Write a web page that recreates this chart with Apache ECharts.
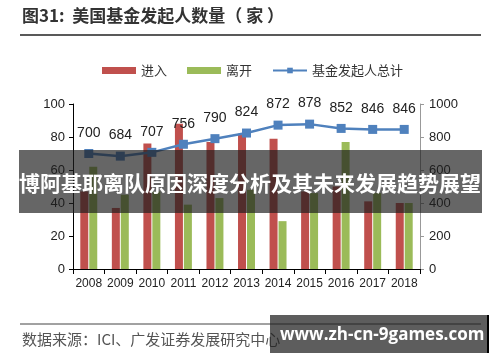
<!DOCTYPE html>
<html><head><meta charset="utf-8">
<script src="https://cdn.jsdelivr.net/npm/echarts@6/dist/echarts.min.js"></script>
<style>html,body{margin:0;padding:0;background:#fff}#c{width:500px;height:362px}</style>
</head><body><div id="c"></div>
<script>
const years = ['2008','2009','2010','2011','2012','2013','2014','2015','2016','2017','2018'];
const entered = [47, 37, 76, 88, 77, 82, 79, 47, 50, 41, 40];
const left = [62, 45, 47, 39, 43, 48, 29, 46, 77, 46, 40];
const total = [700, 684, 707, 756, 790, 824, 872, 878, 852, 846, 846];
const leftTicks = [0, 20, 40, 60, 80, 100];
const rightTicks = [0, 200, 400, 600, 800, 1000];

const chart = echarts.init(document.getElementById('c'), null, {renderer: 'canvas'});
const cjk = '"Noto Sans CJK SC", sans-serif';
const lat = 'Arial, "Liberation Sans", sans-serif';
chart.setOption({
  animation: false,
  backgroundColor: '#fff',
  title: {
    text: '图31:  美国基金发起人数量（ 家 ）',
    left: 22, top: 7, padding: 0,
    textStyle: {fontFamily: cjk, fontSize: 17, fontWeight: 'bold', color: '#333'}
  },
  legend: {
    left: 102, top: 64, padding: 0,
    itemWidth: 34, itemHeight: 7, itemGap: 20,
    textStyle: {fontFamily: cjk, fontSize: 13, color: '#333'},
    data: [
      {name: '进入', icon: 'rect'},
      {name: '离开', icon: 'rect'},
      {name: '基金发起人总计'}
    ]
  },
  grid: {left: 73, right: 80, top: 104, bottom: 93},
  xAxis: {
    type: 'category', data: years, boundaryGap: true,
    axisLine: {lineStyle: {color: '#000', width: 1}},
    axisTick: {show: true, length: 5, interval: 0, lineStyle: {color: '#000'}},
    axisLabel: {fontFamily: lat, fontSize: 12, color: '#222', margin: 9, interval: 0}
  },
  yAxis: [
    {
      type: 'value', min: leftTicks[0], max: leftTicks[leftTicks.length - 1], interval: 20,
      axisLine: {show: true, lineStyle: {color: '#000', width: 1}},
      axisTick: {show: true, length: 4, lineStyle: {color: '#000'}},
      splitLine: {show: false},
      axisLabel: {fontFamily: lat, fontSize: 13, color: '#222', margin: 8}
    },
    {
      type: 'value', min: rightTicks[0], max: rightTicks[rightTicks.length - 1], interval: 200,
      position: 'right',
      axisLine: {show: true, lineStyle: {color: '#999', width: 1}},
      axisTick: {show: true, length: 4, lineStyle: {color: '#999'}},
      splitLine: {show: false},
      axisLabel: {fontFamily: lat, fontSize: 13, color: '#222', margin: 9, formatter: v => String(v)}
    }
  ],
  series: [
    {name: '进入', type: 'bar', data: entered, barWidth: 8, barGap: '12%',
     itemStyle: {color: '#c0504d'}},
    {name: '离开', type: 'bar', data: left, barWidth: 8,
     itemStyle: {color: '#9bbb59'}},
    {name: '基金发起人总计', type: 'line', yAxisIndex: 1, data: total,
     symbol: 'rect', symbolSize: 9,
     lineStyle: {color: '#4f81bd', width: 2.5},
     itemStyle: {color: '#4f81bd'},
     label: {show: true, position: 'top', distance: 9, fontFamily: lat, fontSize: 14, color: '#222'}}
  ],
  graphic: [
    {type: 'line', shape: {x1: 20, y1: 35, x2: 481, y2: 35}, style: {stroke: '#222', lineWidth: 1.5}, z: 10},
    {type: 'line', shape: {x1: 20, y1: 324, x2: 481, y2: 324}, style: {stroke: '#444', lineWidth: 1}, z: 10},
    {type: 'text', left: 22, top: 332,
     style: {text: '数据来源：ICI、广发证券发展研究中心', fontFamily: cjk, fontSize: 15, fill: '#555'}, z: 10},
    {type: 'rect', shape: {x: 19, y: 150, width: 463, height: 63}, style: {fill: 'rgba(30,30,30,0.68)'}, z: 100},
    {type: 'text', x: 250, y: 183,
     style: {text: '博阿基耶离队原因深度分析及其未来发展趋势展望', fontFamily: cjk, fontSize: 21, fontWeight: 'bold', fill: '#fff', align: 'center', verticalAlign: 'middle'}, z: 101},
    {type: 'rect', shape: {x: 270, y: 315, width: 218, height: 38}, style: {fill: 'rgba(30,30,30,0.72)'}, z: 100},
    {type: 'line', shape: {x1: 488, y1: 315, x2: 488, y2: 353}, style: {stroke: '#000', lineWidth: 2}, z: 101},
    {type: 'text', left: 280, top: 327,
     style: {text: 'www.zh-cn-9games.com', fontFamily: '"Open Sans", "DejaVu Sans", sans-serif', fontSize: 17, fontWeight: 'bold', fill: '#fff'}, z: 101}
  ]
});
</script></body></html>
